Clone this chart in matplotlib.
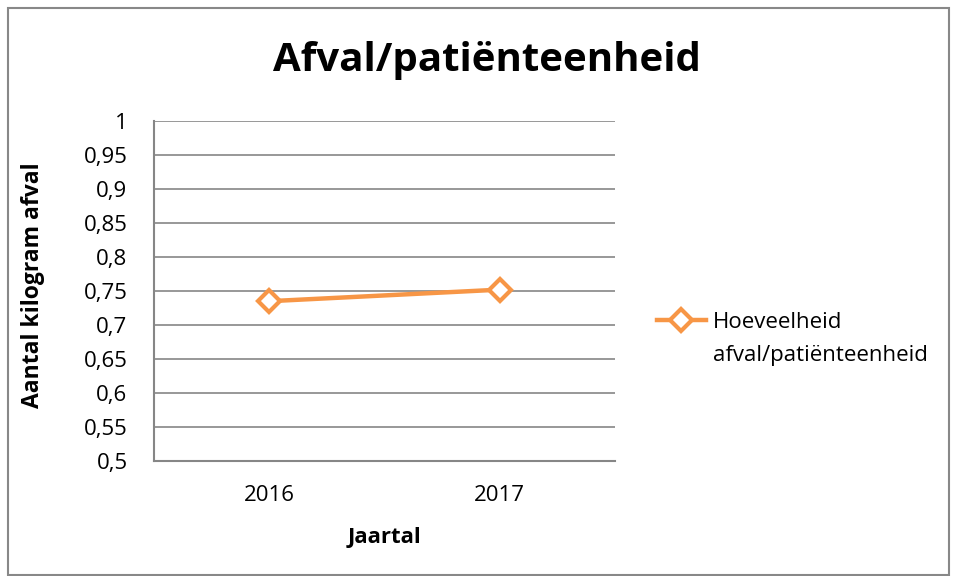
import matplotlib
matplotlib.use("Agg")
import matplotlib.pyplot as plt
from matplotlib.patches import Rectangle
from matplotlib.ticker import FuncFormatter

categories = ["2016", "2017"]
values = [0.735, 0.752]
yticks = [0.5, 0.55, 0.6, 0.65, 0.7, 0.75, 0.8, 0.85, 0.9, 0.95, 1.0]
series_name = ["Hoeveelheid", "afval/patiënteenheid"]

plt.rcParams['font.family'] = ['Open Sans', 'DejaVu Sans']
FS = 16

fig = plt.figure(figsize=(9.57, 5.76), dpi=100)
fig.patches.append(Rectangle((8/957, 1/576), 1-16/957, 1-9/576, transform=fig.transFigure,
                             fill=False, edgecolor='#888888', linewidth=1.5))
ax = fig.add_axes([154/957, 1-461/576, (615-154)/957, (461-121)/576])

x = list(range(len(categories)))
color = '#F79646'
ax.plot(x, values, color=color, linewidth=3.2, marker='D', markersize=11,
        markerfacecolor='white', markeredgecolor=color, markeredgewidth=3,
        label=series_name[0], zorder=3)

ax.set_xlim(-0.5, len(categories) - 0.5)
ax.set_ylim(0.5, 1.0)
ax.set_yticks(yticks)
ax.yaxis.set_major_formatter(FuncFormatter(lambda v, p: ('%g' % round(v, 2)).replace('.', ',')))
ax.set_xticks(x)
ax.set_xticklabels(categories)
ax.tick_params(axis='both', length=0, labelsize=FS, colors='black')
ax.tick_params(axis='y', pad=19)
ax.tick_params(axis='x', pad=17)
ax.grid(axis='y', color='#868686', linewidth=1.2)
ax.set_axisbelow(True)
for s in ['top', 'right']:
    ax.spines[s].set_visible(False)
for s in ['left', 'bottom']:
    ax.spines[s].set_color('#868686')
    ax.spines[s].set_linewidth(1.5)

ax.set_xlabel("Jaartal", fontsize=FS, fontweight='bold', va='center')
ax.xaxis.set_label_coords(0.5, (461-538)/340)
ax.set_ylabel("Aantal kilogram afval", fontsize=FS + 0.5, fontweight='bold', va='center')
ax.yaxis.set_label_coords((33-154)/461, (461-285)/340)
fig.text(487/957, 1-60/576, "Afval/patiënteenheid", fontsize=29, fontweight='bold',
         ha='center', va='center')

leg = ax.legend(loc='center left', bbox_to_anchor=(657/957, 1-322/576), bbox_transform=fig.transFigure,
                frameon=False, fontsize=FS, handlelength=2.2, handletextpad=0.3,
                borderaxespad=0, borderpad=0)
fig.canvas.draw()
x0 = leg.get_texts()[0].get_window_extent().x0
fig.text(x0/957, 1-356/576, series_name[1], fontsize=FS, ha='left', va='center')

fig.savefig("out.png", dpi=100)
